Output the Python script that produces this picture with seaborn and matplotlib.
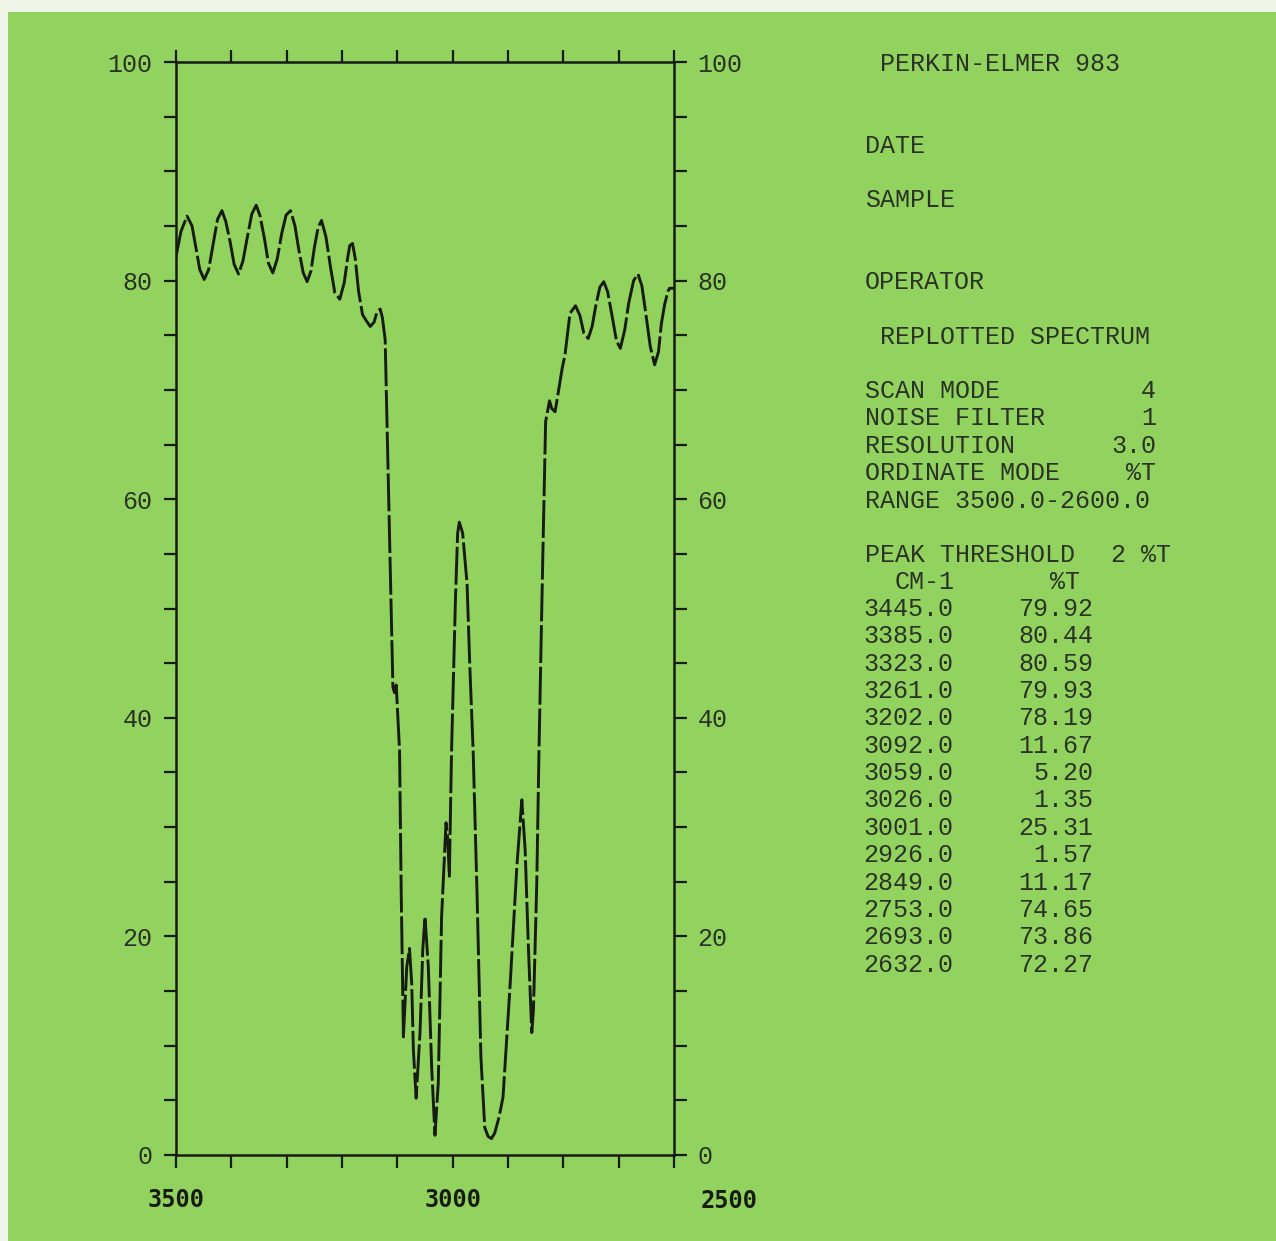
import numpy as np
import pandas as pd
import matplotlib
matplotlib.use("Agg")
import matplotlib.pyplot as plt
import seaborn as sns
from matplotlib.ticker import FixedLocator, MultipleLocator
from matplotlib.patches import Rectangle

# ---------------- data ----------------
wavenumber = [3500, 3491, 3480, 3471, 3464, 3457, 3449, 3441, 3433, 3425, 3417, 3410,
              3402, 3395, 3387, 3379, 3371, 3363, 3355, 3348, 3340, 3333, 3325, 3317,
              3309, 3301, 3293, 3285, 3278, 3270, 3263, 3256, 3250, 3243, 3237, 3229,
              3221, 3213, 3204, 3196, 3190, 3186, 3181, 3176, 3170, 3163, 3157, 3149,
              3142, 3137, 3131, 3127, 3122, 3115, 3108, 3105, 3102, 3100, 3096, 3093,
              3089, 3083, 3078, 3074, 3071, 3066, 3059, 3054, 3050, 3044, 3038, 3032,
              3026, 3020, 3012, 3009, 3006, 3002, 2995, 2991, 2988, 2982, 2974, 2969,
              2963, 2956, 2949, 2942, 2936, 2930, 2924, 2916, 2909, 2896, 2884, 2875,
              2869, 2863, 2857, 2854, 2848, 2844, 2837, 2832, 2825, 2821, 2815, 2810,
              2802, 2797, 2788, 2778, 2770, 2763, 2755, 2748, 2741, 2734, 2727, 2720,
              2712, 2704, 2697, 2689, 2682, 2673, 2665, 2658, 2651, 2643, 2635, 2628,
              2623, 2617, 2611, 2608, 2600]
transmittance = [82.2, 84.5, 85.9, 85.0, 83.0, 81.0, 80.1, 81.0, 83.3, 85.6, 86.4, 85.4,
                 83.5, 81.5, 80.6, 81.8, 84.0, 86.1, 86.9, 85.9, 83.8, 81.6, 80.7, 82.0,
                 84.3, 86.0, 86.4, 85.0, 82.8, 80.7, 79.9, 80.9, 83.0, 84.9, 85.5, 84.0,
                 81.3, 78.9, 78.3, 79.8, 82.0, 83.2, 83.4, 82.0, 79.0, 76.9, 76.4, 75.8,
                 76.2, 77.1, 77.4, 76.6, 74.6, 58.5, 42.8, 42.3, 43.0, 41.0, 37.0, 24.0,
                 10.8, 17.2, 18.9, 15.7, 9.6, 5.2, 11.2, 18.8, 21.8, 17.2, 8.1, 1.8,
                 6.6, 21.8, 30.4, 29.0, 25.5, 37.0, 50.8, 56.9, 57.9, 56.9, 52.3, 44.7,
                 37.0, 24.0, 9.0, 2.5, 1.7, 1.5, 2.0, 3.5, 5.3, 15.7, 26.4, 32.5,
                 27.9, 18.8, 11.2, 13.3, 24.9, 37.0, 55.0, 67.1, 69.0, 68.3, 68.0, 69.5,
                 72.0, 73.2, 77.0, 77.7, 76.8, 75.2, 74.7, 75.8, 77.8, 79.4, 79.9, 79.0,
                 76.8, 74.5, 73.8, 75.5, 77.9, 80.0, 80.6, 79.5, 77.0, 74.0, 72.3, 73.5,
                 76.0, 77.8, 79.0, 79.3, 79.3]

x_tick_labels = ["3500", "3000", "2500"]
y_tick_labels = [0, 20, 40, 60, 80, 100]

header_lines = ["PERKIN-ELMER 983", "DATE", "SAMPLE", "OPERATOR", "REPLOTTED SPECTRUM"]
setting_names = ["SCAN MODE", "NOISE FILTER", "RESOLUTION", "ORDINATE MODE"]
setting_values = ["4", "1", "3.0", "%T"]
range_line = "RANGE 3500.0-2600.0"
threshold_name = "PEAK THRESHOLD"
threshold_value = "2 %T"
table_headers = ["CM-1", "%T"]
peak_wavenumbers = ["3445.0", "3385.0", "3323.0", "3261.0", "3202.0", "3092.0", "3059.0",
                    "3026.0", "3001.0", "2926.0", "2849.0", "2753.0", "2693.0", "2632.0"]
peak_transmittance = ["79.92", "80.44", "80.59", "79.93", "78.19", "11.67", "5.20",
                      "1.35", "25.31", "1.57", "11.17", "74.65", "73.86", "72.27"]

# ---------------- styling ----------------
BG = "#92d35f"
INK = "#161c12"
TXT = "#2a3324"
W, H = 1276, 1241

sns.set_theme(style="white")
plt.rcParams["font.family"] = ["Liberation Mono", "DejaVu Sans Mono"]

fig = plt.figure(figsize=(W / 100, H / 100), dpi=100)
fig.patch.set_facecolor("#eef5e8")
fig.patches.append(Rectangle((8 / W, 0), 1 - 8 / W, 1 - 12 / H, transform=fig.transFigure,
                             facecolor=BG, edgecolor="none", zorder=-5))

ax = fig.add_axes([176 / W, 1 - 1155 / H, (674 - 176) / W, (1155 - 62) / H])
ax.set_facecolor("none")
ax.set_zorder(2)

df = pd.DataFrame({"wavenumber": wavenumber, "T": transmittance})
sns.lineplot(data=df, x="wavenumber", y="T", ax=ax, sort=False, estimator=None,
             color=INK, linewidth=2.1)
ln = ax.lines[0]
ln.set_linestyle((0, (13, 1.3)))
ln.set_dash_capstyle("butt")
ln.set_solid_joinstyle("round")
ln.set_dash_joinstyle("round")

ax.set_xlim(3500, 2600)
ax.set_ylim(0, 100)
ax.set_xlabel("")
ax.set_ylabel("")
for s in ax.spines.values():
    s.set_visible(True)
    s.set_color(INK)
    s.set_linewidth(1.8)

ax.xaxis.set_major_locator(FixedLocator([3500, 3000]))
ax.xaxis.set_minor_locator(FixedLocator(list(range(2600, 3501, 100))))
ax.set_xticklabels(x_tick_labels[:2])
ax.yaxis.set_major_locator(FixedLocator(y_tick_labels))
ax.yaxis.set_minor_locator(MultipleLocator(5))
ax.set_yticklabels([str(v) for v in y_tick_labels])

ax.tick_params(axis="x", which="both", direction="out", length=9, width=1.6, color=INK,
               top=True, bottom=True, labeltop=False, labelbottom=True, pad=15,
               labelsize=17, labelcolor=INK)
ax.tick_params(axis="y", which="both", direction="out", length=9, width=1.6, color=INK,
               left=True, right=True, labelleft=True, labelright=True, pad=8,
               labelsize=18, labelcolor=TXT)
for lbl in ax.get_xticklabels():
    lbl.set_fontfamily(["DejaVu Sans Mono"])
    lbl.set_fontweight("bold")

ax.text(2500, -0.0315, x_tick_labels[2], transform=ax.get_xaxis_transform(),
        ha="center", va="top", fontsize=17, fontweight="bold",
        family=["DejaVu Sans Mono"], color=INK, clip_on=False)

# ---------------- right-hand text panel ----------------
FS = 18


def ftxt(x, y, s, ha="left"):
    fig.text(x / W, 1 - y / H, s, ha=ha, va="center", fontsize=FS, color=TXT,
             family=["Liberation Mono", "DejaVu Sans Mono"])


ftxt(880, 64, header_lines[0])
ftxt(865, 146, header_lines[1])
ftxt(865, 200, header_lines[2])
ftxt(865, 282, header_lines[3])
ftxt(880, 337, header_lines[4])

for i, (nm, val) in enumerate(zip(setting_names, setting_values)):
    y = 391 + i * 27.4
    ftxt(865, y, nm)
    ftxt(1156, y, val, ha="right")
ftxt(865, 501, range_line)
ftxt(865, 555, threshold_name)
ftxt(1171, 555, threshold_value, ha="right")
ftxt(895, 582, table_headers[0])
ftxt(1050, 582, table_headers[1])

for i, (wn, tv) in enumerate(zip(peak_wavenumbers, peak_transmittance)):
    y = 609 + i * 27.35
    ftxt(863, y, wn)
    ftxt(1093, y, tv, ha="right")

fig.savefig("out.png", dpi=100, facecolor=fig.get_facecolor())
